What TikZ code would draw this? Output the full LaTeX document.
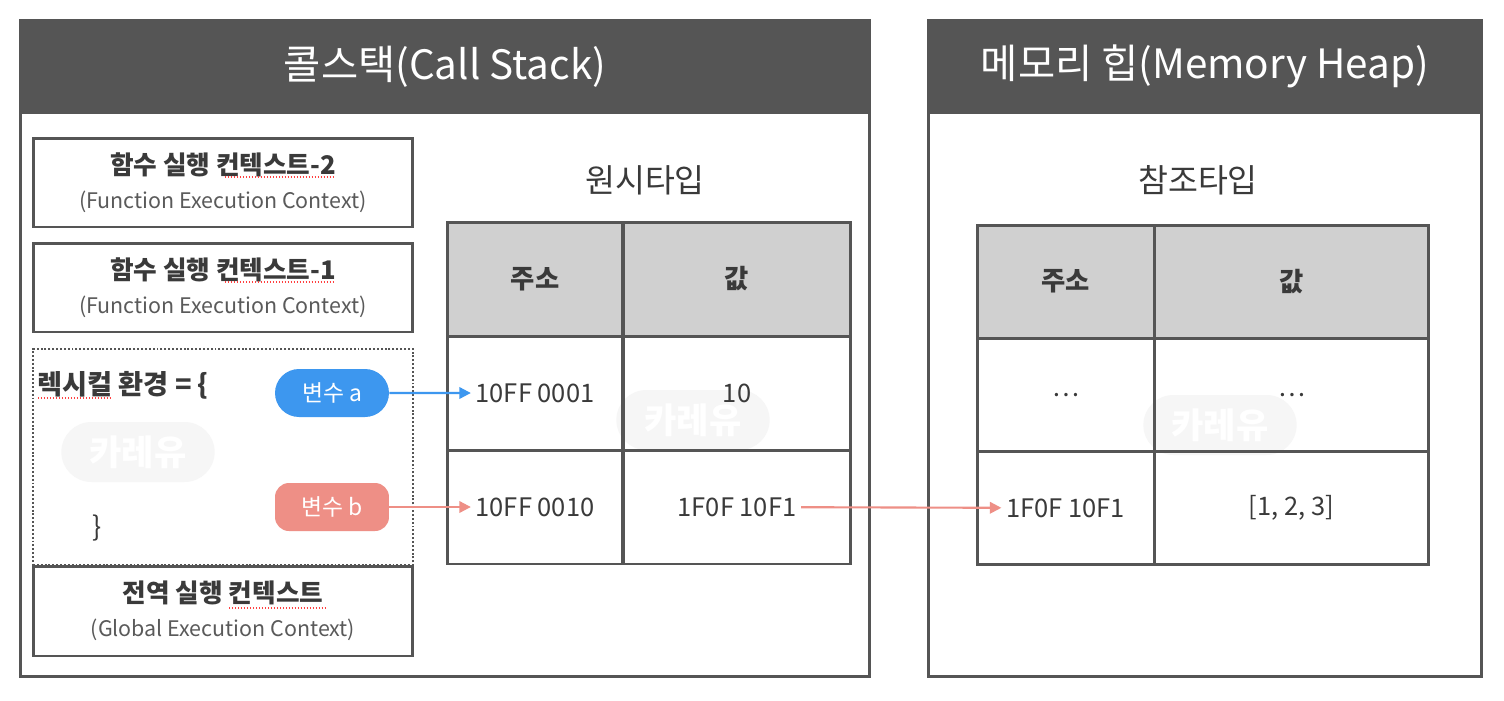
\documentclass[tikz,border=0pt]{standalone}
\usepackage{fontspec}
\setmainfont{Noto Sans CJK KR}
\usetikzlibrary{arrows.meta, positioning, shapes.misc}

\definecolor{bargray}{HTML}{555555}
\definecolor{linegray}{HTML}{555555}
\definecolor{headgray}{HTML}{D0D0D0}
\definecolor{txtgray}{HTML}{3A3A3A}
\definecolor{subgray}{HTML}{5A5A5A}
\definecolor{varblue}{HTML}{3D97EF}
\definecolor{varred}{HTML}{EE8F86}
\definecolor{markgray}{HTML}{F6F6F6}

\begin{document}
\begin{tikzpicture}[x=0.02cm, y=-0.02cm,
            panel/.style={draw=linegray, line width=1.7pt, fill=white, minimum height=13.14cm, inner sep=0pt},
            header/.style={draw=linegray, fill=bargray, line width=1.7pt, text=white, minimum height=1.86cm, inner sep=0pt, font=\fontsize{23}{27}\selectfont},
            ctxbox/.style={draw=linegray, line width=1.7pt, minimum width=7.6cm, minimum height=1.78cm, align=center, text=subgray, inner sep=0pt, font=\fontsize{12.2}{19.5}\selectfont},
            lexbox/.style={draw=linegray, line width=1.1pt, dash pattern=on 1.1pt off 1.1pt, minimum width=7.6cm, minimum height=4.32cm, inner sep=0pt},
            section/.style={text=txtgray, font=\fontsize{18.5}{22}\selectfont},
            cell/.style={draw=linegray, line width=1.7pt, minimum height=2.28cm, inner sep=0pt, text=txtgray, font=\fontsize{14.5}{17}\selectfont},
            headcell/.style={cell, fill=headgray, font=\fontsize{15}{17}\selectfont\bfseries},
            celltext/.style={text=txtgray, inner sep=0.09cm, font=\fontsize{14.5}{17}\selectfont},
            var/.style={text=white, minimum width=2.28cm, minimum height=0.96cm, inner sep=0pt, font=\fontsize{13}{16}\selectfont},
            wmark/.style={rounded rectangle, fill=markgray, text=white, minimum width=3.3cm, minimum height=1.2cm, font=\fontsize{20}{24}\selectfont\bfseries},
            points/.style={line width=1.2pt, -{Triangle[length=6.5pt, width=6.5pt]}},
            redmark/.style={red!75, line width=0.8pt, dash pattern=on 0.8pt off 0.9pt}]

            \useasboundingbox[fill=white] (0,0) rectangle (1504,700);

            % Call stack panel
            \node[panel, minimum width=17cm] (cs) at (445,348.5) {};
            \node[header, minimum width=17cm] (csh) at (445,66.5) {콜스택(Call Stack)};

            % Memory heap panel
            \node[panel, minimum width=11.08cm] (mh) at (1205,348.5) {};
            \node[header, minimum width=11.08cm] (mhh) at (1205,66.5) {메모리 힙(Memory Heap)};

            % watermarks
            \node[wmark] (wm1) at (138,452) {카레유};
            \node[wmark] (wm2) at (693,420) {카레유};
            \node[wmark] (wm3) at (1220,425) {카레유};

            % Execution contexts
            \node[ctxbox] (ctx2) at (223,182.5) {{\fontsize{14.6}{19.5}\selectfont\bfseries\color{txtgray}함수 실행 컨텍스트-2}\\(Function Execution Context)};
            \node[ctxbox] (ctx1) at (223,287.5) {{\fontsize{14.6}{19.5}\selectfont\bfseries\color{txtgray}함수 실행 컨텍스트-1}\\(Function Execution Context)};
            \node[lexbox] (lex) at (223,457) {};
            \node[ctxbox, minimum height=1.8cm] (gctx) at (223,611) {{\fontsize{14.6}{19.5}\selectfont\bfseries\color{txtgray}전역 실행 컨텍스트}\\(Global Execution Context)};

            % lexical environment
            \node[anchor=west, text=txtgray, inner sep=0pt, font=\fontsize{15.5}{18}\selectfont\bfseries] (lexopen) at (37,385) {렉시컬 환경 = \{};
            \node[text=txtgray, inner sep=0pt, font=\fontsize{15.5}{18}\selectfont] (lexclose) at (97,528) {\}};
            \node[var, rounded rectangle, fill=varblue] (vara) at (332,393) {변수 a};
            \node[var, rounded corners=0.28cm, fill=varred] (varb) at (332,507) {변수 b};

            % spell check marks
            \draw[redmark] (225,177) -- (334,177);
            \draw[redmark] (225,282) -- (334,282);
            \draw[redmark] (38,398) -- (112,398);
            \draw[redmark] (229,608) -- (326,608);

            % Primitive types table
            \node[section] (prim) at (645,180) {원시타입};
            \node[headcell, minimum width=3.52cm] (pa0) at (535,279) {주소};
            \node[headcell, minimum width=4.56cm] (pv0) at (737,279) {값};
            \node[cell, minimum width=3.52cm] (pa1) at (535,393) {};
            \node[cell, minimum width=4.56cm] (pv1) at (737,393) {10};
            \node[cell, minimum width=3.52cm] (pa2) at (535,507) {};
            \node[cell, minimum width=4.56cm] (pv2) at (737,507) {};
            \node[celltext] (addra) at (pa1) {10FF 0001};
            \node[celltext] (addrb) at (pa2) {10FF 0010};
            \node[celltext] (ptr) at (pv2) {1F0F 10F1};

            % Reference types table
            \node[section] (ref) at (1198,180) {참조타입};
            \node[headcell, minimum width=3.54cm, minimum height=2.26cm] (ha0) at (1065.5,281.5) {주소};
            \node[headcell, minimum width=5.5cm, minimum height=2.26cm] (hv0) at (1291.5,281.5) {값};
            \node[cell, minimum width=3.54cm, minimum height=2.26cm] (ha1) at (1065.5,395) {\dots};
            \node[cell, minimum width=5.5cm, minimum height=2.26cm] (hv1) at (1291.5,395) {\dots};
            \node[cell, minimum width=3.54cm, minimum height=2.26cm] (ha2) at (1065.5,508) {};
            \node[cell, minimum width=5.5cm, minimum height=2.26cm] (hv2) at (1291.5,508) {[1, 2, 3]};
            \node[celltext] (haddr) at (ha2) {1F0F 10F1};

            % references
            \draw[points, varblue] (vara) -- (addra);
            \draw[points, varred] (varb) -- (addrb);
            \draw[points, varred] (ptr) -- (haddr);
        \end{tikzpicture}
\end{document}
